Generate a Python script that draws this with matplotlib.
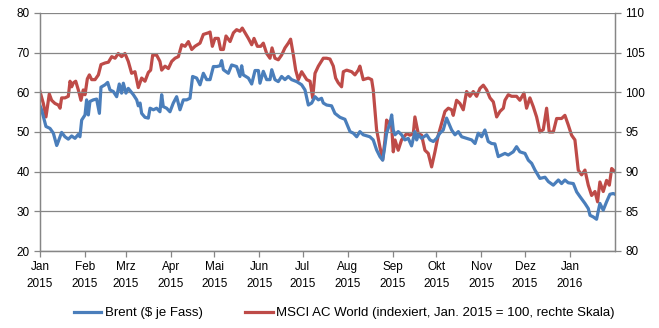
import matplotlib
matplotlib.use("Agg")
import matplotlib.pyplot as plt
import numpy as np
import pandas as pd

# Brent (left axis, $ per barrel) - days since 1 Jan 2015
brent_days = [0, 1.1, 4.1, 6.9, 9.2, 11.5, 12.6, 13.8, 14.9, 17.2, 19.5, 21.8, 24.1, 26.4, 27.5,
              28.7, 31.0, 32.1, 33.3, 34.4, 36.7, 39.0, 40.9, 42.0, 44.8, 46.6, 48.2, 50.5, 52.8,
              54.6, 56.2, 57.4, 59.2, 60.8, 64.3, 66.6, 67.7, 68.9, 70.0, 72.3, 74.6, 75.8, 78.1,
              80.3, 82.6, 83.8, 84.9, 87.2, 89.5, 91.8, 94.1, 96.4, 98.7, 101.0, 103.3, 105.1,
              107.9, 110.2, 112.5, 114.8, 117.1, 119.4, 121.7, 124.0, 125.1, 126.3, 129.7, 132.0,
              135.4, 137.7, 138.9, 140.0, 143.5, 145.8, 148.1, 150.4, 151.5, 153.8, 156.1, 158.4,
              159.6, 161.8, 164.1, 166.4, 168.7, 171.0, 173.3, 176.8, 180.2, 182.5, 184.8, 187.1,
              189.4, 191.7, 193.9, 195.1, 197.4, 200.8, 203.1, 206.6, 210.0, 213.5, 215.8, 218.1,
              220.3, 222.6, 227.2, 229.5, 231.8, 234.1, 236.0, 237.1, 238.7, 241.0, 242.2, 243.3,
              244.5, 246.7, 249.0, 251.3, 253.6, 255.9, 258.2, 259.4, 260.5, 262.8, 266.3, 268.6,
              270.9, 273.2, 275.4, 277.7, 280.0, 283.5, 285.8, 288.1, 290.4, 293.8, 297.3, 299.6,
              301.8, 304.1, 306.4, 308.7, 311.0, 313.3, 315.6, 317.9, 320.2, 322.5, 325.9, 328.2,
              330.5, 334.0, 336.3, 338.6, 340.9, 344.3, 347.8, 350.1, 353.5, 357.0, 359.2, 361.5,
              363.8, 367.3, 369.6, 371.9, 375.3, 377.6, 378.8, 381.0, 383.3, 385.6, 387.9, 390.2,
              392.5, 394.8, 396.0]
brent_vals = [56.6, 55.6, 51.4, 50.9, 49.7, 46.6, 47.6, 48.8, 49.9, 48.8, 48.2, 49.0, 48.4, 49.4, 48.8,
              53.0, 54.3, 58.1, 54.3, 57.7, 58.1, 58.3, 54.7, 61.3, 61.9, 62.5, 60.6, 60.2, 58.9,
              62.1, 59.8, 62.3, 59.8, 61.0, 59.4, 58.1, 56.6, 57.3, 54.7, 53.7, 53.5, 56.0, 55.6,
              56.0, 55.1, 59.4, 56.4, 56.0, 55.1, 57.3, 58.9, 55.6, 58.1, 58.1, 58.5, 64.0,
              63.6, 61.9, 64.8, 63.2, 63.2, 66.5, 66.5, 66.7, 68.0, 65.7, 64.8, 66.9,
              66.5, 64.0, 66.7, 64.4, 63.6, 62.1, 65.5, 65.5, 62.3, 65.3, 63.2, 63.2,
              65.7, 63.2, 62.7, 64.0, 63.2, 64.0, 63.2, 62.7, 61.9, 60.6, 56.8, 57.3,
              58.9, 58.1, 58.5, 57.3, 56.8, 56.6, 54.7, 53.7, 53.2, 50.1, 49.7, 48.8,
              50.1, 49.3, 48.8, 48.0, 45.5, 43.8, 42.9, 45.5, 49.7, 52.2, 54.3, 50.5,
              49.3, 50.1, 49.3, 48.0, 48.4, 46.5, 50.1, 48.0, 49.3, 48.4, 49.3, 48.0,
              47.6, 48.4, 49.7, 50.5, 53.5, 50.5, 49.3, 50.1, 48.8, 48.4, 48.0, 47.1,
              49.7, 48.8, 50.5, 47.6, 47.1, 47.0, 43.8, 44.2, 44.6, 44.2, 45.0, 46.3,
              45.0, 44.6, 42.9, 42.1, 40.4, 38.3, 38.6, 37.5, 36.6, 37.9, 37.0, 37.9,
              37.2, 37.0, 34.9, 33.7, 32.0, 30.7, 29.0, 28.6, 28.0, 32.0, 30.3, 32.4,
              34.3, 34.5, 34.3]

# MSCI AC World (right axis, index Jan 2015 = 100)
msci_days = [0, 2.3, 4.1, 6.4, 8.0, 10.3, 12.6, 13.8, 14.9, 17.2, 19.5, 20.7, 21.8, 23.0, 24.6,
             26.4, 28.2, 29.8, 31.0, 32.6, 34.0, 35.6, 37.9, 40.2, 42.0, 44.8, 47.1, 49.4, 51.7,
             53.9, 56.2, 58.5, 60.8, 63.1, 65.4, 67.7, 70.0, 72.3, 74.6, 76.2, 77.6, 80.3, 82.6,
             83.8, 86.1, 88.4, 90.7, 93.0, 95.3, 97.6, 99.9, 102.2, 104.5, 106.7, 110.2, 112.5,
             115.9, 117.1, 118.7, 120.5, 122.8, 124.4, 126.3, 128.1, 130.9, 133.2, 135.4, 137.7,
             139.3, 141.2, 143.5, 145.8, 147.4, 149.7, 152.0, 153.8, 156.1, 158.4, 159.8, 161.8,
             164.1, 166.4, 168.7, 171.0, 172.6, 174.5, 176.1, 177.9, 180.2, 183.7, 186.0, 187.8,
             189.4, 191.7, 195.1, 197.4, 199.7, 202.0, 203.6, 205.4, 207.7, 208.9, 211.2, 214.6,
             216.9, 219.2, 220.3, 222.6, 226.1, 228.4, 229.5, 231.8, 234.1, 236.0, 237.6, 238.7,
             242.2, 243.3, 244.5, 246.7, 249.0, 252.5, 254.8, 257.1, 258.2, 260.5, 262.8, 265.1,
             267.4, 269.7, 272.0, 274.3, 276.6, 278.9, 281.2, 283.5, 284.6, 286.9, 289.2, 291.5,
             293.8, 296.1, 298.4, 300.7, 303.0, 305.3, 307.6, 309.9, 312.2, 314.5, 316.8, 319.1,
             320.2, 322.5, 324.8, 328.2, 330.5, 333.3, 335.1, 337.4, 339.7, 342.0, 344.3, 346.6,
             348.9, 350.7, 353.5, 355.8, 359.2, 361.5, 363.8, 366.1, 368.4, 370.7, 373.0, 375.3,
             377.6, 379.9, 382.2, 384.0, 385.6, 387.9, 390.2, 392.1, 393.7, 396.0]
msci_vals = [100.1, 98.6, 96.9, 99.8, 99.0, 98.6, 98.4, 98.0, 99.3, 99.3, 99.5, 101.4, 100.7, 101.2, 101.4,
             100.3, 99.0, 100.3, 99.7, 101.7, 102.2, 101.6, 101.6, 102.2, 103.5, 103.7, 103.8, 104.5, 104.3,
             104.9, 104.5, 104.9, 103.9, 102.4, 102.6, 100.6, 101.8, 101.4, 102.5, 102.8, 104.7, 104.7, 103.9,
             102.8, 103.3, 103.0, 103.9, 104.3, 104.5, 106.0, 105.8, 106.4, 105.4, 105.8, 106.2, 107.3,
             107.5, 107.6, 105.8, 106.8, 106.8, 105.4, 105.4, 107.1, 106.4, 107.5, 107.9, 107.7,
             108.1, 107.5, 106.8, 106.0, 106.8, 105.8, 105.8, 106.2, 104.9, 104.3, 105.6, 104.3,
             104.1, 104.7, 105.6, 106.2, 106.7, 104.7, 102.8, 101.6, 102.6, 101.6, 101.4, 99.3,
             102.4, 103.3, 104.3, 104.3, 104.2, 103.3, 101.8, 101.2, 100.7, 102.6, 102.8, 102.6,
             102.2, 102.8, 103.3, 101.6, 101.8, 101.6, 100.3, 95.3, 93.1, 91.5, 94.0, 96.5,
             95.7, 92.5, 94.0, 92.7, 94.0, 94.8, 94.6, 94.8, 96.9, 94.8, 94.6, 92.7,
             92.3, 90.6, 92.5, 94.6, 96.1, 97.6, 98.0, 97.8, 97.1, 99.0, 98.6, 97.8,
             100.1, 99.5, 100.1, 99.5, 100.5, 100.9, 100.3, 99.3, 98.8, 96.9, 97.6, 98.0,
             99.0, 99.7, 99.5, 99.5, 99.0, 99.9, 98.0, 99.3, 98.2, 96.9, 95.0, 95.3,
             98.0, 95.0, 95.0, 96.7, 96.7, 97.1, 95.9, 94.6, 94.0, 90.2, 89.6, 90.2,
             88.3, 87.0, 87.5, 86.2, 88.7, 87.5, 88.9, 88.3, 90.4, 90.0]

month_labels = ["Jan\n2015", "Feb\n2015", "Mrz\n2015", "Apr\n2015", "Mai\n2015", "Jun\n2015",
                "Jul\n2015", "Aug\n2015", "Sep\n2015", "Okt\n2015", "Nov\n2015", "Dez\n2015",
                "Jan\n2016"]

start = pd.Timestamp("2015-01-01")
brent_dates = start + pd.to_timedelta(brent_days, unit="D")
msci_dates = start + pd.to_timedelta(msci_days, unit="D")
month_ticks = pd.date_range("2015-01-01", periods=len(month_labels), freq="MS")

plt.rcParams["font.family"] = ["Liberation Sans", "DejaVu Sans"]
blue = "#4a7ebb"
red = "#be4b48"
grey = "#868686"

fig = plt.figure(figsize=(6.59, 3.28), dpi=100)
ax = fig.add_axes([40 / 659, 1 - 251 / 328, 575 / 659, 238 / 328])
ax2 = ax.twinx()

l1, = ax.plot(brent_dates, brent_vals, color=blue, lw=2.3, solid_joinstyle="round",
              label="Brent ($ je Fass)")
l2, = ax2.plot(msci_dates, msci_vals, color=red, lw=2.3, solid_joinstyle="round",
               label="MSCI AC World (indexiert, Jan. 2015 = 100, rechte Skala)")
ax.set_zorder(ax2.get_zorder() + 1)
ax.patch.set_visible(False)

ax.set_xlim(start, start + pd.Timedelta(days=396))
ax.set_ylim(20, 80)
ax2.set_ylim(80, 110)
ax.set_yticks(np.arange(20, 81, 10))
ax2.set_yticks(np.arange(80, 111, 5))
ax.set_xticks(month_ticks)
ax.set_xticklabels(month_labels, fontsize=8.5, linespacing=1.6)

ax.grid(axis="y", color=grey, lw=0.9)
ax.set_axisbelow(True)
for a in (ax, ax2):
    for s in a.spines.values():
        s.set_color(grey)
        s.set_linewidth(0.9)
    a.spines["top"].set_visible(False)
    a.tick_params(colors=grey, labelcolor="black", labelsize=8.5, length=4, width=0.9)
ax.tick_params(axis="x", pad=3)

fig.legend(handles=[l1, l2], loc="center", bbox_to_anchor=(0.522, 0.045), ncol=2,
           frameon=False, fontsize=9.5, handlelength=2.1, handletextpad=0.25,
           columnspacing=3.2)

fig.savefig("out.png", dpi=100)
